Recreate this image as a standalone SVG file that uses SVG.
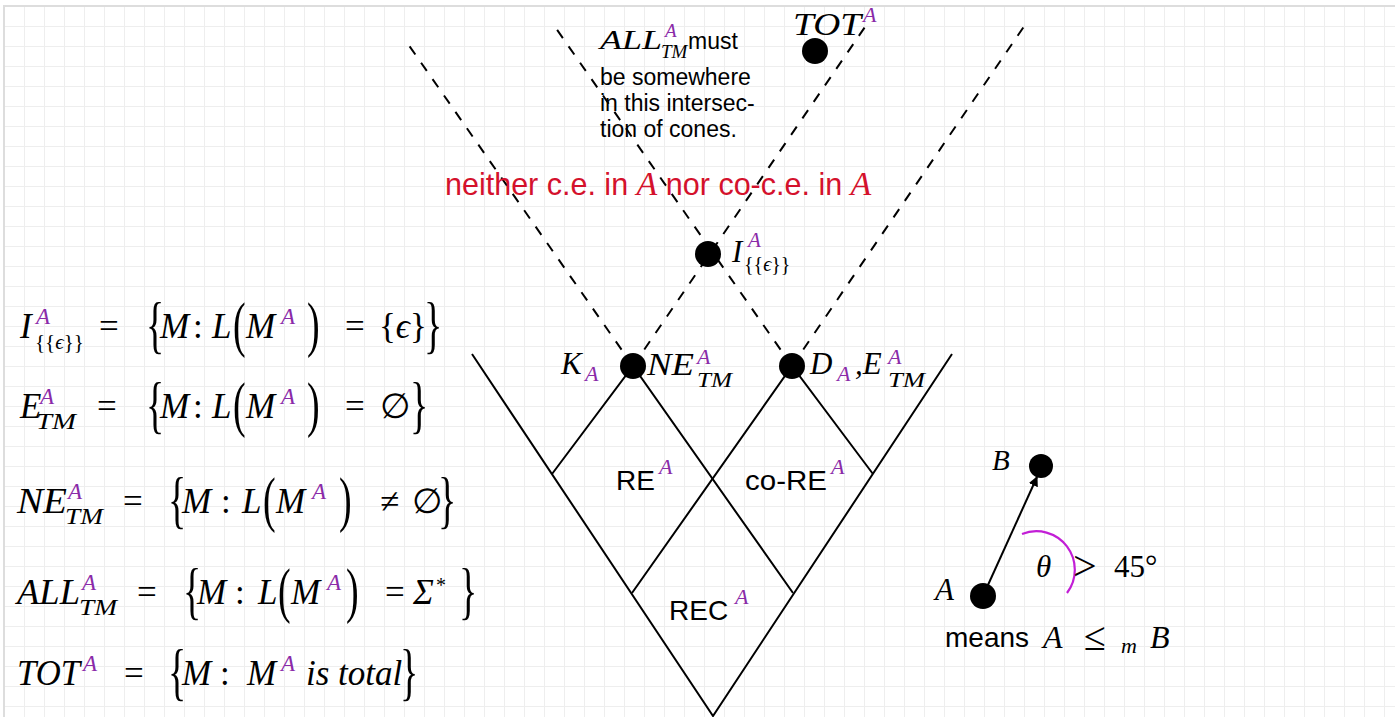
<svg xmlns="http://www.w3.org/2000/svg" width="1395" height="717" viewBox="0 0 1395 717">
<style>
.m{font-family:"Liberation Serif",serif;font-style:italic;fill:#000}
.u{font-family:"Liberation Serif",serif;font-style:normal;fill:#000}
.p{fill:#8a2aa8}
.s{font-family:"Liberation Sans",sans-serif;fill:#000}
.red{fill:#d4112c}
.solid{stroke:#000;stroke-width:2;fill:none}
.dash{stroke:#000;stroke-width:2;fill:none;stroke-dasharray:10 10}
.dot{fill:#000}
.f{font-size:35px}
.br{font-size:38px}
</style>
<defs>
<pattern id="grid" x="4" y="6" width="20" height="20" patternUnits="userSpaceOnUse">
<path d="M0 0H20M0 0V20" stroke="#eeeeee" stroke-width="2" fill="none"/>
</pattern>
<marker id="arr" viewBox="0 0 10 10" refX="9" refY="5" markerWidth="5" markerHeight="5" orient="auto">
<path d="M0 0L10 5L0 10z" fill="#000"/>
</marker>
</defs>
<rect x="0" y="0" width="1395" height="717" fill="#fff"/>
<rect x="4" y="6" width="1395" height="717" fill="url(#grid)"/>
<path d="M4 717V6H1395" stroke="#dddddd" stroke-width="2" fill="none"/>

<g id="connectors">
<path class="solid" d="M472 354L713 716L952 354"/>
<path class="solid" d="M552 474L633 366L793 593"/>
<path class="solid" d="M632 593L792 366L873 474"/>
<path class="dash" d="M633 366L408 44"/>
<path class="dash" d="M633 366L867 24"/>
<path class="dash" d="M792 366L553 24"/>
<path class="dash" d="M792 366L1027 22"/>
<path class="solid" d="M983 596L1037 477" marker-end="url(#arr)"/>
<path d="M1022 534A38.5 38.5 0 0 1 1067 593" stroke="#c21ed6" stroke-width="2.2" fill="none"/>
</g>

<g id="node-tot">
<circle class="dot" cx="815" cy="51" r="13"/>
<text class="m" x="793" y="35" font-size="32" textLength="68" lengthAdjust="spacingAndGlyphs">TOT</text>
<text class="m p" x="863" y="22" font-size="22">A</text>
</g>

<g id="note-all">
<text class="m" x="600" y="49" font-size="28" textLength="62" lengthAdjust="spacingAndGlyphs">ALL</text>
<text class="m p" x="665" y="37" font-size="19">A</text>
<text class="m" x="661" y="58" font-size="19">TM</text>
<text class="s" x="688" y="49" font-size="23">must</text>
<text class="s" x="600" y="85" font-size="23">be somewhere</text>
<text class="s" x="600" y="111" font-size="23">in this intersec-</text>
<text class="s" x="600" y="137" font-size="23">tion of cones.</text>
</g>

<g id="label-neither">
<text x="445" y="195" font-size="30.5"><tspan class="s red">neither c.e. in </tspan><tspan class="m red" font-size="34">A</tspan><tspan class="s red"> nor co-c.e. in </tspan><tspan class="m red" font-size="34">A</tspan></text>
</g>

<g id="node-ieps">
<circle class="dot" cx="708" cy="254" r="13"/>
<text class="m" x="732" y="262" font-size="31">I</text>
<text class="m p" x="748" y="247" font-size="21">A</text>
<text class="u" x="744" y="271" font-size="20">{{<tspan class="m">ϵ</tspan>}}</text>
</g>

<g id="node-k">
<circle class="dot" cx="633" cy="366" r="13"/>
<text class="m" x="561" y="374" font-size="31">K</text>
<text class="m p" x="585" y="381" font-size="22">A</text>
<text class="m" x="647" y="375" font-size="31" textLength="47" lengthAdjust="spacingAndGlyphs">NE</text>
<text class="m p" x="697" y="364" font-size="22">A</text>
<text class="m" x="697" y="387" font-size="22" textLength="35" lengthAdjust="spacingAndGlyphs">TM</text>
</g>

<g id="node-d">
<circle class="dot" cx="792" cy="366" r="13"/>
<text class="m" x="810" y="374" font-size="31">D</text>
<text class="m p" x="837" y="381" font-size="22">A</text>
<text class="m" x="855" y="374" font-size="31">,E</text>
<text class="m p" x="888" y="364" font-size="22">A</text>
<text class="m" x="888" y="387" font-size="22" textLength="37" lengthAdjust="spacingAndGlyphs">TM</text>
</g>

<g id="region-re">
<text class="s" x="616" y="490" font-size="28">RE</text>
<text class="m p" x="659" y="474" font-size="22">A</text>
</g>
<g id="region-core">
<text class="s" x="745" y="490" font-size="28" textLength="82" lengthAdjust="spacingAndGlyphs">co-RE</text>
<text class="m p" x="831" y="474" font-size="22">A</text>
</g>
<g id="region-rec">
<text class="s" x="669" y="620" font-size="28">REC</text>
<text class="m p" x="735" y="604" font-size="22">A</text>
</g>

<g id="node-b">
<circle class="dot" cx="1041" cy="466" r="12"/>
<text class="m" x="992" y="470" font-size="29">B</text>
</g>
<g id="node-a">
<circle class="dot" cx="983" cy="596" r="13"/>
<text class="m" x="935" y="600" font-size="31">A</text>
</g>
<g id="label-theta">
<text class="m" x="1036" y="577" font-size="31">θ</text>
<text class="u" x="1073" y="580" font-size="42">&gt;</text>
<text class="u" x="1114" y="577" font-size="31">45°</text>
</g>
<g id="label-means">
<text class="s" x="945" y="647" font-size="28">means</text>
<text class="m" x="1043" y="648" font-size="32">A</text>
<text class="u" x="1084" y="650" font-size="40">≤</text>
<text class="m" x="1121" y="653" font-size="22">m</text>
<text class="m" x="1150" y="648" font-size="32">B</text>
</g>

<g id="formula-ieps">
<text class="m f" x="20" y="338">I</text>
<text class="m p" x="36" y="324" font-size="23">A</text>
<text class="u" x="35" y="349" font-size="21">{{<tspan class="m">ϵ</tspan>}}</text>
<text class="u f" x="99" y="338">=</text>
<text class="u br" transform="translate(146,346) scale(1,1.65)">{</text>
<text class="m f" x="160" y="338">M</text>
<text class="u f" x="193" y="338">:</text>
<text class="m f" x="212" y="338">L</text>
<text class="u br" transform="translate(233,345) scale(1,1.6)">(</text>
<text class="m f" x="246" y="338">M</text>
<text class="m p" x="281" y="324" font-size="23">A</text>
<text class="u br" transform="translate(307,345) scale(1,1.6)">)</text>
<text class="u f" x="345" y="338">=</text>
<text class="u f" x="379" y="338">{<tspan class="m">ϵ</tspan>}</text>
<text class="u br" transform="translate(424,346) scale(1,1.65)">}</text>
</g>

<g id="formula-etm">
<text class="m f" x="20" y="418">E</text>
<text class="m p" x="40" y="404" font-size="23">A</text>
<text class="m" x="36" y="429" font-size="23" textLength="40" lengthAdjust="spacingAndGlyphs">TM</text>
<text class="u f" x="97" y="418">=</text>
<text class="u br" transform="translate(146,426) scale(1,1.65)">{</text>
<text class="m f" x="160" y="418">M</text>
<text class="u f" x="193" y="418">:</text>
<text class="m f" x="212" y="418">L</text>
<text class="u br" transform="translate(233,425) scale(1,1.6)">(</text>
<text class="m f" x="246" y="418">M</text>
<text class="m p" x="281" y="404" font-size="23">A</text>
<text class="u br" transform="translate(307,425) scale(1,1.6)">)</text>
<text class="u f" x="345" y="418">=</text>
<text class="u f" x="380" y="418">∅</text>
<text class="u br" transform="translate(410,426) scale(1,1.65)">}</text>
</g>

<g id="formula-netm">
<text class="m f" x="17" y="513" textLength="50" lengthAdjust="spacingAndGlyphs">NE</text>
<text class="m p" x="68" y="499" font-size="23">A</text>
<text class="m" x="65" y="524" font-size="23" textLength="38" lengthAdjust="spacingAndGlyphs">TM</text>
<text class="u f" x="123" y="513">=</text>
<text class="u br" transform="translate(168,521) scale(1,1.65)">{</text>
<text class="m f" x="182" y="513">M</text>
<text class="u f" x="221" y="513">:</text>
<text class="m f" x="242" y="513">L</text>
<text class="u br" transform="translate(263,520) scale(1,1.6)">(</text>
<text class="m f" x="276" y="513">M</text>
<text class="m p" x="312" y="499" font-size="23">A</text>
<text class="u br" transform="translate(339,520) scale(1,1.6)">)</text>
<text class="u f" x="380" y="513">≠</text>
<text class="u f" x="412" y="513">∅</text>
<text class="u br" transform="translate(438,521) scale(1,1.65)">}</text>
</g>

<g id="formula-alltm">
<text class="m f" x="17" y="604" textLength="63" lengthAdjust="spacingAndGlyphs">ALL</text>
<text class="m p" x="82" y="590" font-size="23">A</text>
<text class="m" x="79" y="615" font-size="23" textLength="38" lengthAdjust="spacingAndGlyphs">TM</text>
<text class="u f" x="137" y="604">=</text>
<text class="u br" transform="translate(183,612) scale(1,1.65)">{</text>
<text class="m f" x="197" y="604">M</text>
<text class="u f" x="235" y="604">:</text>
<text class="m f" x="258" y="604">L</text>
<text class="u br" transform="translate(278,611) scale(1,1.6)">(</text>
<text class="m f" x="291" y="604">M</text>
<text class="m p" x="327" y="590" font-size="23">A</text>
<text class="u br" transform="translate(346,611) scale(1,1.6)">)</text>
<text class="u f" x="385" y="604">=</text>
<text class="m f" x="413" y="604">Σ</text>
<text class="u" x="436" y="592" font-size="20">*</text>
<text class="u br" transform="translate(459,612) scale(1,1.65)">}</text>
</g>

<g id="formula-tot">
<text class="m f" x="17" y="685" textLength="63" lengthAdjust="spacingAndGlyphs">TOT</text>
<text class="m p" x="83" y="671" font-size="23">A</text>
<text class="u f" x="124" y="685">=</text>
<text class="u br" transform="translate(168,693) scale(1,1.65)">{</text>
<text class="m f" x="182" y="685">M</text>
<text class="u f" x="220" y="685">:</text>
<text class="m f" x="247" y="685">M</text>
<text class="m p" x="281" y="671" font-size="23">A</text>
<text class="m f" x="306" y="685">is total</text>
<text class="u br" transform="translate(400,693) scale(1,1.65)">}</text>
</g>
</svg>
